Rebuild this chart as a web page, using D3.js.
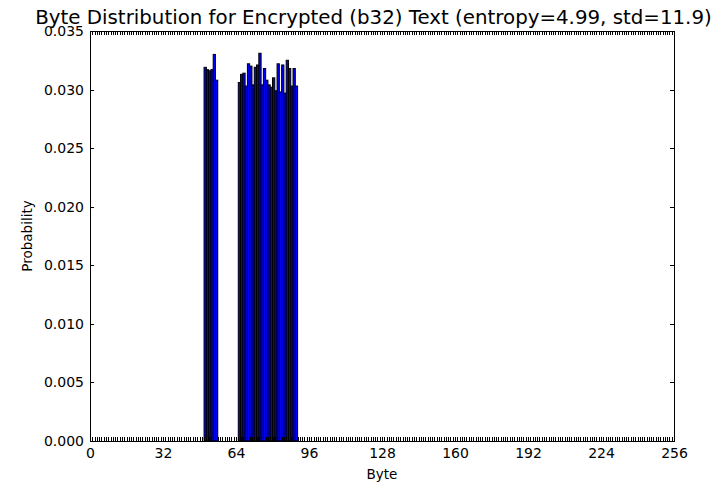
<!DOCTYPE html>
<html><head><meta charset="utf-8">
<script src="https://cdn.jsdelivr.net/npm/d3@7"></script>
<style>body{margin:0;background:#fff} svg text{font-family:"DejaVu Sans",sans-serif;fill:#000}</style>
</head><body><svg id="c" width="715" height="485"></svg>
<script>
const byteValues = [50,51,52,53,54,55,65,66,67,68,69,70,71,72,73,74,75,76,77,78,79,80,81,82,83,84,85,86,87,88,89,90];
const probabilities = [0.0319,0.0317,0.0316,0.0317,0.0330,0.0308,
  0.0306,0.0313,0.0314,0.0303,0.0322,0.0320,0.0304,0.0319,0.0321,0.0331,0.0304,0.0318,0.0308,
  0.0304,0.0302,0.0310,0.0299,0.0322,0.0298,0.0321,0.0297,0.0325,0.0318,0.0303,0.0318,0.0303];
const xTickValues = [0,32,64,96,128,160,192,224,256];
const yTickValues = [0.000,0.005,0.010,0.015,0.020,0.025,0.030,0.035];
const titleText = "Byte Distribution for Encrypted (b32) Text (entropy=4.99, std=11.9)";
const xLabel = "Byte", yLabel = "Probability";

const L = 90, R = 674, T = 31, B = 441;
const svg = d3.select("#c");
const x = d3.scaleLinear().domain([0,256]).range([L,R]);
const y = d3.scaleLinear().domain([0,0.035]).range([B,T]);

const data = byteValues.map((b,i)=>({b, p: probabilities[i]}));
svg.append("g").selectAll("rect").data(data).join("rect")
  .attr("x", d=>x(d.b)).attr("width", d=>x(d.b+1)-x(d.b))
  .attr("y", d=>y(d.p)).attr("height", d=>y(0)-y(d.p))
  .attr("fill","#0000ff").attr("stroke","#000").attr("stroke-width",1);

const minor = d3.range(0,257);
const fmtX = d => xTickValues.includes(d) ? d : "";
const axB = svg.append("g").attr("transform",`translate(0,${B})`)
  .call(d3.axisBottom(x).tickValues(minor).tickSize(-4).tickPadding(7).tickFormat(fmtX));
const axT = svg.append("g").attr("transform",`translate(0,${T})`)
  .call(d3.axisTop(x).tickValues(minor).tickSize(-4).tickFormat(""));
const axL = svg.append("g").attr("transform",`translate(${L},0)`)
  .call(d3.axisLeft(y).tickValues(yTickValues).tickSize(-4).tickPadding(6).tickFormat(d3.format(".3f")));
const axR = svg.append("g").attr("transform",`translate(${R},0)`)
  .call(d3.axisRight(y).tickValues(yTickValues).tickSize(-4).tickFormat(""));
[axB,axT,axL,axR].forEach(a=>{
  a.select(".domain").remove();
  a.selectAll("line").attr("stroke","#000").attr("shape-rendering","crispEdges");
  a.selectAll("text").attr("font-size",14).attr("font-family","DejaVu Sans").attr("fill","#000");
});

svg.append("rect").attr("x",L).attr("y",T).attr("width",R-L).attr("height",B-T)
  .attr("fill","none").attr("stroke","#000").attr("stroke-width",1).attr("shape-rendering","crispEdges");

const title = svg.append("text").attr("x",373.5).attr("y",24).attr("text-anchor","middle")
  .attr("font-size",17).text(titleText);
const w = title.node().getComputedTextLength();
title.attr("font-size", 17*677/w);

svg.append("text").attr("x",(L+R)/2).attr("y",479).attr("text-anchor","middle")
  .attr("font-size",13.5).text(xLabel);
svg.append("text").attr("transform",`translate(32,${(T+B)/2}) rotate(-90)`).attr("text-anchor","middle")
  .attr("font-size",13.5).text(yLabel);
</script></body></html>
